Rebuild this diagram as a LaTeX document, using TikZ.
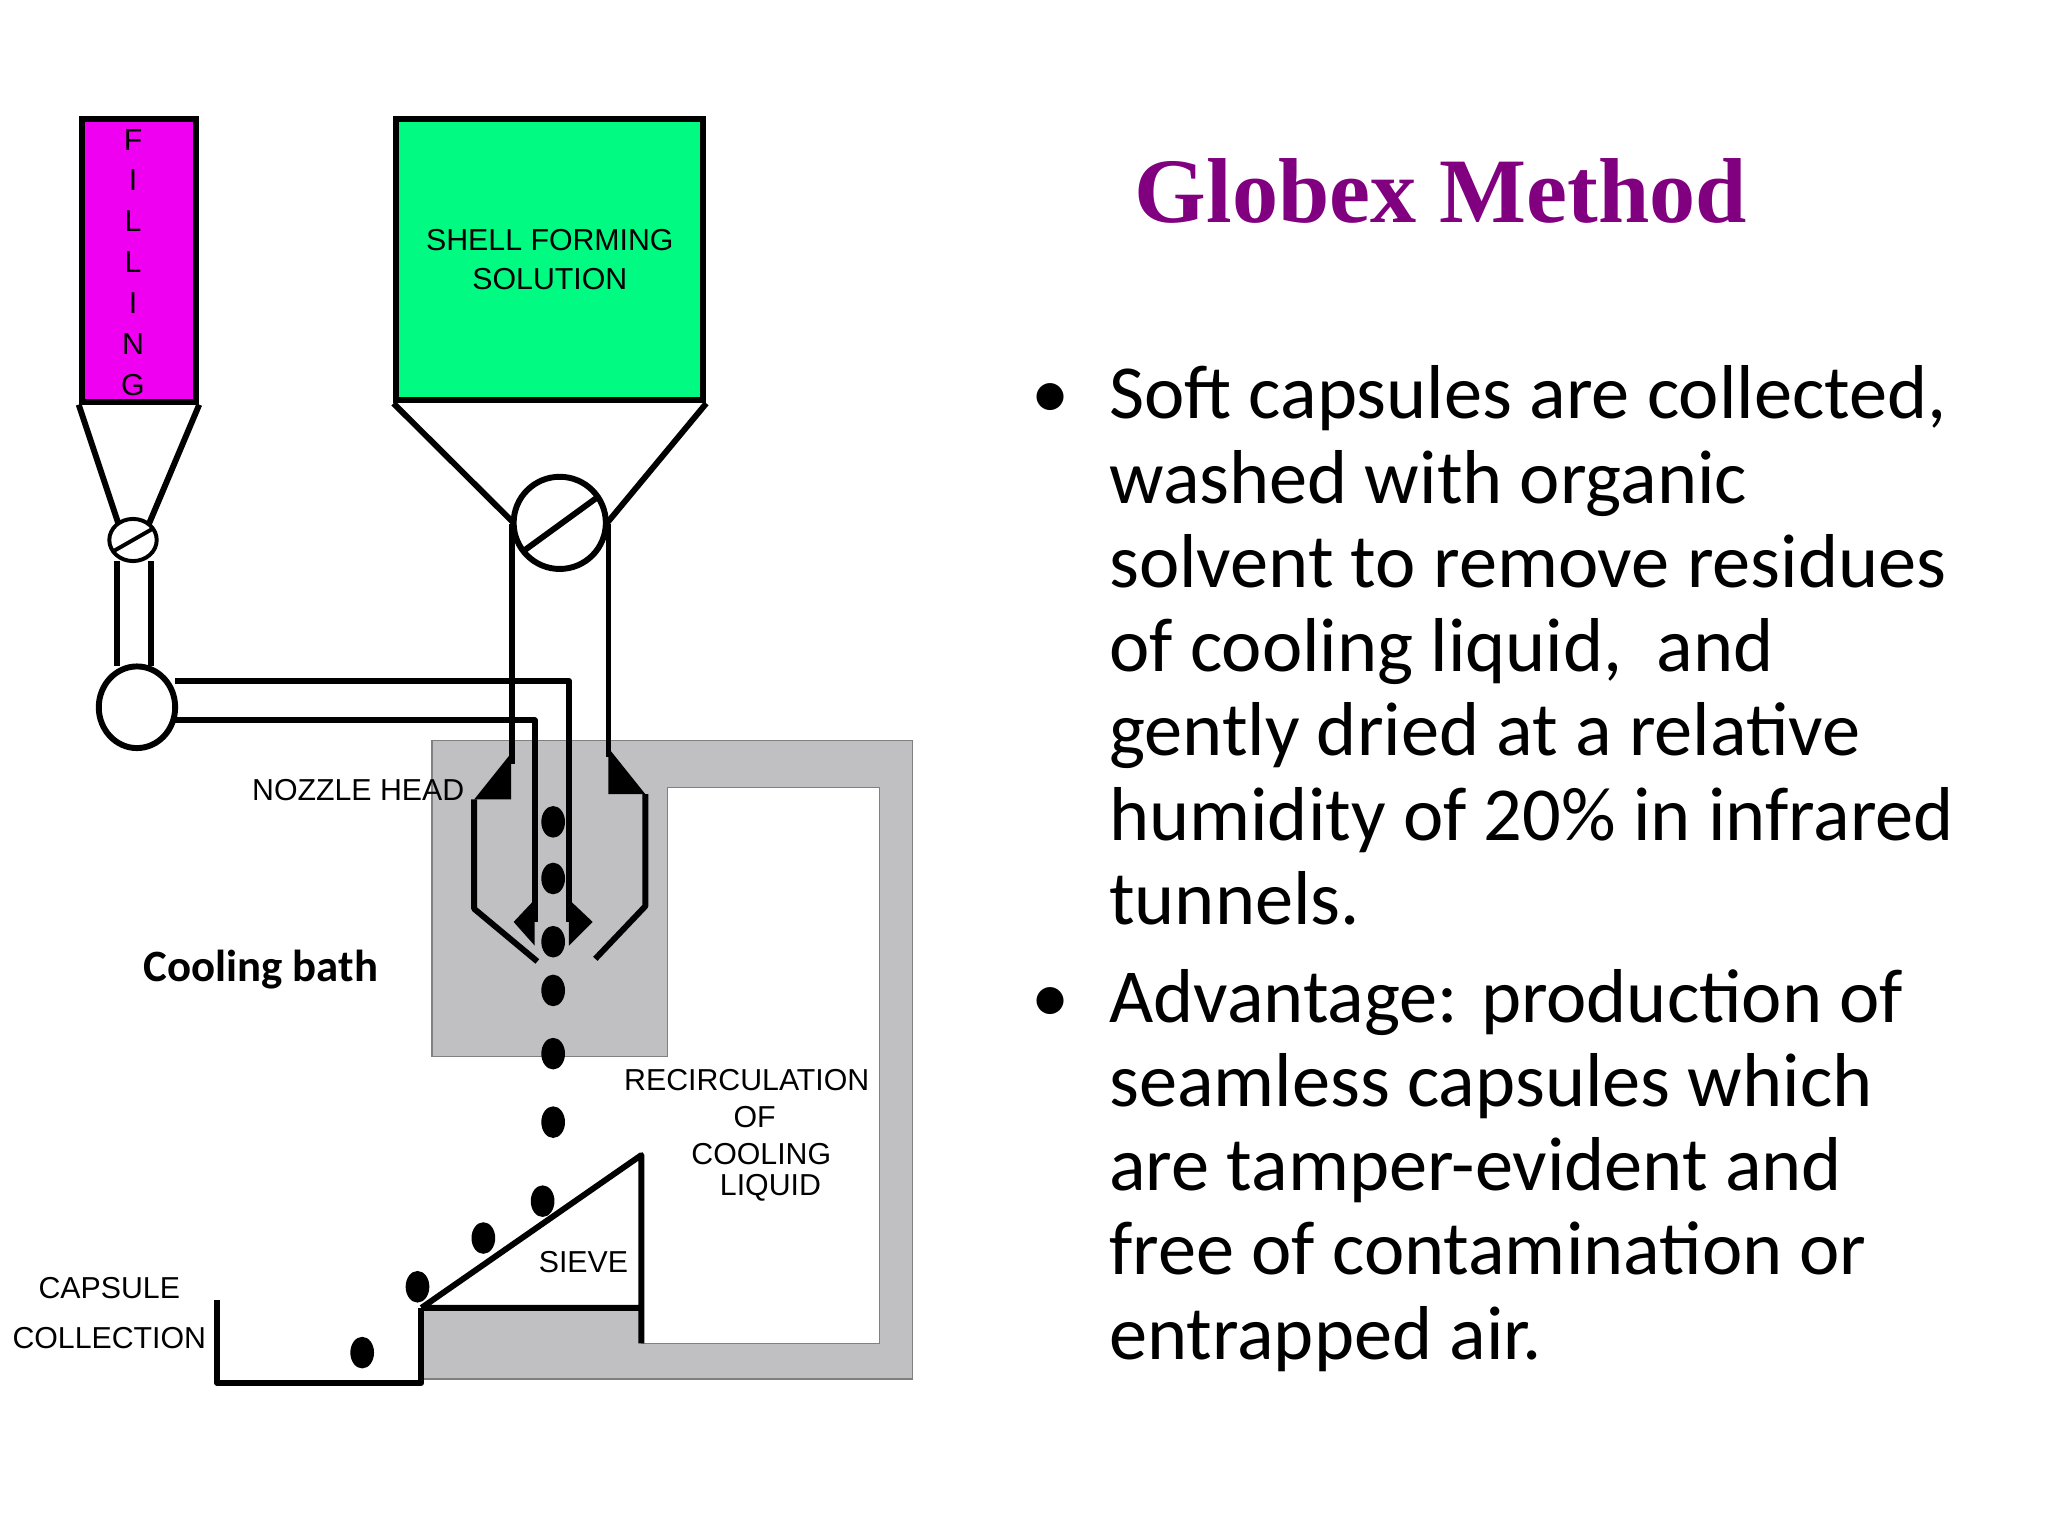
\documentclass[tikz,border=0pt]{standalone}
\usepackage{fontspec}
\usetikzlibrary{shapes.geometric}
\setmainfont{Carlito}
\newfontfamily\arial{Liberation Sans}
\newfontfamily\tnr{Liberation Serif}
\definecolor{mag}{RGB}{240,0,240}
\definecolor{grn}{RGB}{0,250,130}
\definecolor{bathgray}{RGB}{192,192,194}
\definecolor{ttl}{RGB}{128,0,128}
\begin{document}
\begin{tikzpicture}[x=1pt,y=-1pt,
  pipe/.style={line width=4.5pt,line join=round},
  lbl/.style={font=\arial\fontsize{23}{26}\selectfont,align=center,inner sep=0},
  blt/.style={font=\fontsize{58}{64}\selectfont,anchor=base west,inner sep=0},
  drop/.style={fill=black,ellipse,minimum width=18,minimum height=24,inner sep=0}]
\useasboundingbox (0,0) rectangle (1555,1165);
% gray cooling system
\fill[bathgray,draw=gray,line width=1pt] (328,562) -- (693,562) -- (693,1047) -- (320,1047) -- (320,993) -- (487,993) -- (487,1020) -- (668,1020) -- (668,598) -- (507,598) -- (507,802) -- (328,802) -- cycle;
% filling tank
\node[draw,line width=4.5pt,fill=mag,minimum width=87,minimum height=215,inner sep=0] (fill) at (105.5,197.5) {};
\foreach \l [count=\i] in {F,I,L,L,I,N,G}
  \node[font=\arial\fontsize{23}{24}\selectfont,inner sep=0] (f\i) at (101,75+31*\i) {\l};
\draw[pipe] (fill.south west) -- (90,398) (fill.south east) -- (113,398);
\draw[line width=3pt] (101,410) ellipse (18 and 16);
\draw[line width=3pt] (87,418) -- (115,402);
\draw[pipe] (89,426) -- (89,506) (115,426) -- (115,506);
\node[draw,line width=4.5pt,ellipse,minimum width=58,minimum height=62] (ball) at (104,537) {};
\draw[pipe] (133,517) -- (432,517) -- (432,700);
\draw[pipe] (133,547) -- (406,547) -- (406,700);
% shell tank
\node[draw,line width=4.5pt,fill=grn,minimum width=233,minimum height=214,inner sep=0,
  label={[lbl]center:SHELL FORMING\\[4pt]SOLUTION}] (shell) at (417.5,197) {};
\draw[pipe] (shell.south west) -- (390,397) (shell.south east) -- (461,397);
\node[draw,line width=4.5pt,circle,minimum size=70] (valve) at (425,397) {};
\draw[line width=4.5pt] (398,418) -- (453,378);
\draw[pipe] (389,398) -- (389,580) (462,398) -- (462,575);
% nozzle head
\fill (388,572) -- (388,607) -- (360,607) -- cycle;
\fill (462,568) -- (490,603) -- (462,603) -- cycle;
\draw[pipe] (360,607) -- (360,690) -- (408,730);
\draw[pipe] (490,603) -- (490,688) -- (452,728);
\fill (406,683) -- (406,718) -- (390,700) -- cycle;
\fill (432,683) -- (432,718) -- (450,700) -- cycle;
% drops
\foreach \x/\y [count=\i] in {420/624,420/667,420/715,420/752,420/800,420/852,412/912,367/940,317/977,275/1027}
  \node[drop] (d\i) at (\x,\y) {};
% sieve and collection
\draw[pipe] (320,993) -- (487,877) -- (487,1020) (320,993) -- (487,993);
\draw[pipe] (165,987) -- (165,1050) -- (320,1050) -- (320,993);
% labels
\node[lbl] (noz) at (272,600) {NOZZLE HEAD};
\node[font=\bfseries\fontsize{34}{36}\selectfont,inner sep=0] (cool) at (198,736) {Cooling bath};
\node[lbl,align=center] (rec) at (567,862) {RECIRCULATION\\[2pt]\hspace*{12pt}OF\\[2pt]\hspace*{22pt}COOLING\\[-2pt]\hspace*{36pt}LIQUID};
\node[lbl] (sieve) at (443,958) {SIEVE};
\node[lbl] (cap) at (83,997) {CAPSULE\\[12pt]COLLECTION};
% text
\node[font=\tnr\bfseries\fontsize{70}{80}\selectfont,text=ttl,inner sep=0] (title) at (1094,145) {Globex Method};
\node[blt] (b1) at (783,318) {\textbullet};
\node[blt] (b2) at (783,776) {\textbullet};
\foreach \t [count=\i] in {{Soft capsules are collected,},{washed with organic},{solvent to remove residues},{of cooling liquid,\ \ and},{gently dried at a relative},{humidity of 20\% in infrared},{tunnels.}}
  \node[blt] (s\i) at (842,254+64*\i) {\t};
\foreach \t [count=\i] in {{Advantage: production of},{seamless capsules which},{are tamper-evident and},{free of contamination or},{entrapped air.}}
  \node[blt] (a\i) at (842,712+64*\i) {\t};
\end{tikzpicture}
\end{document}
